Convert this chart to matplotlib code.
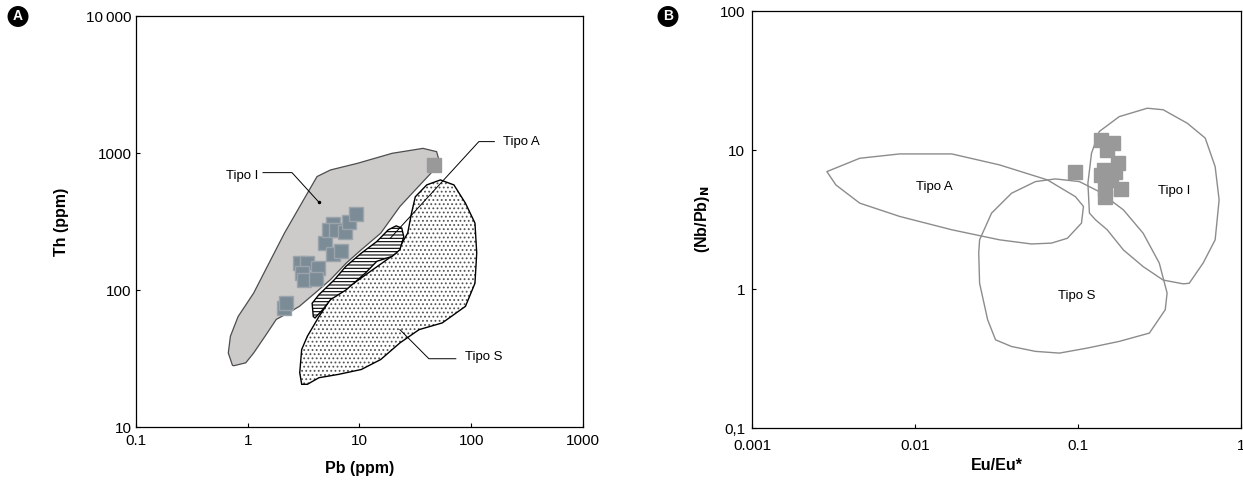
import matplotlib
matplotlib.use("Agg")
import matplotlib.pyplot as plt
from matplotlib.patches import Polygon

plt.rcParams["font.family"] = ["Liberation Sans", "DejaVu Sans"]
plt.rcParams["hatch.linewidth"] = 0.8

## Panel A data: Th vs Pb (ppm)
pbSamples = [2.1, 2.21, 2.92, 3.42, 3.04, 3.16, 4.27, 4.08, 4.9, 5.74, 6.89,
             5.83, 5.3, 6.2, 7.4, 8.07, 9.38]
thSamples = [74, 80, 157, 157, 133, 119, 145, 120, 220, 183, 193,
             302, 275, 272, 264, 316, 360]
pbExtra = [46]
thExtra = [813]

tipoIPb = [0.73, 0.67, 0.70, 0.82, 1.13, 1.55, 2.13, 3.16, 4.17, 5.5, 9.6, 19.6,
           37, 49, 51, 43.5, 31.6, 23, 15.5, 10.4, 7.6, 5.5, 4.0, 2.9, 2.3, 1.8,
           1.43, 1.13, 0.96, 0.75]
tipoITh = [28.2, 34.7, 46, 64, 95, 157, 260, 455, 673, 752, 841, 995,
           1081, 1023, 913, 711, 538, 407, 260, 197, 157, 119, 95, 76, 68, 61,
           46, 34.7, 29.4, 28]

tipoSPb = [3.04, 2.92, 3.04, 3.42, 4.34, 5.97, 8.9, 13.2, 21.3, 27, 29.2, 31.6,
           40, 53, 70, 88.8, 108, 112, 108, 88.8, 55, 34.2, 23, 15.5, 10.4,
           6.46, 4.34, 3.42]
tipoSTh = [20.5, 24.9, 36.8, 46, 64, 95, 112, 141, 186, 260, 363, 479,
           585, 636, 585, 430, 308, 186, 112, 76, 57.5, 51.4, 41.1, 31.1, 26.3,
           24.2, 22.9, 20.5]

tipoAPb = [3.86, 3.77, 4.34, 5.97, 7.57, 10.4, 14.3, 18.1, 21.3, 23.9, 24.9,
           23, 19.6, 14.3, 11.3, 7.57, 5.5, 4.7, 4.0]
tipoATh = [64, 80, 92.5, 119, 149, 186, 226, 275, 294, 283, 245,
           197, 176, 162, 133, 100, 85, 72, 62.5]

## Panel B data: (Nb/Pb)N vs Eu/Eu*
euSamples = [0.0953, 0.139, 0.165, 0.15, 0.177, 0.145, 0.139, 0.169, 0.16,
             0.147, 0.146, 0.184]
nbSamples = [7.0, 11.8, 11.3, 10.0, 8.13, 7.19, 6.62, 7.0, 6.1,
             5.22, 4.62, 5.22]

fieldAEu = [0.00288, 0.00458, 0.00805, 0.0168, 0.033, 0.0649, 0.0964, 0.108,
            0.105, 0.0861, 0.0687, 0.0518, 0.033, 0.0168, 0.00805, 0.00458,
            0.00327]
fieldANb = [7.0, 8.73, 9.38, 9.38, 7.82, 6.1, 4.62, 3.93,
            2.98, 2.32, 2.14, 2.11, 2.26, 2.67, 3.33, 4.15, 5.61]

fieldSEu = [0.0249, 0.0295, 0.0391, 0.0548, 0.0727, 0.102, 0.135, 0.19, 0.251,
            0.315, 0.352, 0.343, 0.274, 0.179, 0.114, 0.0769, 0.0548, 0.0391,
            0.0312, 0.0279, 0.0249, 0.0246]
fieldSNb = [2.26, 3.52, 4.89, 5.93, 6.2, 5.93, 5.02, 3.71, 2.52,
            1.54, 0.936, 0.71, 0.482, 0.42, 0.376, 0.346, 0.356, 0.386,
            0.431, 0.601, 1.10, 1.81]

fieldIEu = [0.1175, 0.115, 0.121, 0.135, 0.179, 0.266, 0.333, 0.468, 0.603,
            0.694, 0.734, 0.694, 0.586, 0.481, 0.442, 0.333, 0.251, 0.19,
            0.151, 0.128]
fieldINb = [3.52, 5.77, 9.48, 13.6, 17.4, 20.0, 19.5, 15.6, 12.2,
            7.6, 4.38, 2.26, 1.54, 1.10, 1.09, 1.16, 1.45, 1.91,
            2.67, 3.15]

xTicksA = [0.1, 1, 10, 100, 1000]
xLabelsA = ["0.1", "1", "10", "100", "1000"]
yTicksA = [10, 100, 1000, 10000]
yLabelsA = ["10", "100", "1000", "10\u2009000"]
xTicksB = [0.001, 0.01, 0.1, 1]
xLabelsB = ["0.001", "0.01", "0.1", "1"]
yTicksB = [0.1, 1, 10, 100]
yLabelsB = ["0,1", "1", "10", "100"]

tickSize = 11
labelSize = 11.5
noteSize = 9.5


def styleAxes(ax, xt, xl, yt, yl, xpad, ypad):
    ax.set_xscale("log")
    ax.set_yscale("log")
    ax.set_xlim(xt[0], xt[-1])
    ax.set_ylim(yt[0], yt[-1])
    ax.set_xticks(xt)
    ax.set_xticklabels(xl)
    ax.set_yticks(yt)
    ax.set_yticklabels(yl)
    ax.minorticks_off()
    ax.tick_params(direction="in", length=3, width=0.8, labelsize=tickSize)
    ax.tick_params(axis="x", pad=xpad)
    ax.tick_params(axis="y", pad=ypad)
    for s in ax.spines.values():
        s.set_linewidth(0.9)


def panelTag(fig, x, y, letter):
    fig.text(x, y, letter, ha="center", va="center", color="white",
             fontsize=10, fontweight="bold",
             bbox=dict(boxstyle="circle,pad=0.2", fc="black", ec="black"))


fig = plt.figure(figsize=(12.43, 4.82), dpi=100)

## Panel A
axA = fig.add_axes([0.1094, 0.1141, 0.3596, 0.8527])
styleAxes(axA, xTicksA, xLabelsA, yTicksA, yLabelsA, 5, 3)
# dotted field: hatch drawn in grey, outline drawn on top in black
axA.add_patch(Polygon(list(zip(tipoSPb, tipoSTh)), closed=True, fc="white",
                      ec="#555555", lw=0, hatch="....", zorder=2))
axA.add_patch(Polygon(list(zip(tipoSPb, tipoSTh)), closed=True, fill=False,
                      ec="black", lw=1.0, zorder=2))
axA.add_patch(Polygon(list(zip(tipoIPb, tipoITh)), closed=True, fc="#cdcaca",
                      ec="#4d4d4d", lw=0.9, zorder=2))
axA.add_patch(Polygon(list(zip(tipoAPb, tipoATh)), closed=True, fc="white",
                      ec="black", lw=1.0, hatch="-----", zorder=3))
axA.plot(pbSamples, thSamples, "s", ms=9.5, mfc="#7b8c97", mec="#9aa4aa",
         mew=1.0, zorder=4)
axA.plot(pbExtra, thExtra, "s", ms=9.5, mfc="#999999", mec="#999999",
         zorder=4)

# leaders
axA.plot([1.37, 2.49, 4.34], [719, 719, 437], color="black", lw=0.7, zorder=5)
axA.plot([4.34], [437], "o", color="black", ms=1.5, zorder=5)
axA.text(0.89, 680, "Tipo I", fontsize=noteSize, ha="center", va="center")
axA.plot([161, 117, 18.9], [1211, 1211, 239], color="black", lw=0.7, zorder=5)
axA.text(281, 1211, "Tipo A", fontsize=noteSize, ha="center", va="center")
axA.plot([72.8, 41.8, 23], [31.5, 31.5, 51.4], color="black", lw=0.7, zorder=5)
axA.text(130, 32.5, "Tipo S", fontsize=noteSize, ha="center", va="center")

axA.set_xlabel("Pb (ppm)", fontsize=labelSize, fontweight="bold", va="center")
axA.xaxis.set_label_coords(0.5, -0.102)
axA.set_ylabel("Th (ppm)", fontsize=labelSize, fontweight="bold", va="center")
axA.yaxis.set_label_coords(-0.167, 0.5)

## Panel B
axB = fig.add_axes([0.605, 0.112, 0.3934, 0.865])
styleAxes(axB, xTicksB, xLabelsB, yTicksB, yLabelsB, 8, 5)
for eu, nb in [(fieldAEu, fieldANb), (fieldSEu, fieldSNb), (fieldIEu, fieldINb)]:
    axB.add_patch(Polygon(list(zip(eu, nb)), closed=True, fill=False,
                          ec="#8c8c8c", lw=1.0, joinstyle="round", zorder=2))
axB.plot(euSamples, nbSamples, "s", ms=9.5, mfc="#999999", mec="#999999",
         zorder=4)
axB.text(0.0132, 5.4, "Tipo A", fontsize=noteSize, ha="center", va="center")
axB.text(0.098, 0.89, "Tipo S", fontsize=noteSize, ha="center", va="center")
axB.text(0.39, 5.1, "Tipo I", fontsize=noteSize, ha="center", va="center")

axB.set_xlabel("Eu/Eu*", fontsize=labelSize, fontweight="bold", va="center")
axB.xaxis.set_label_coords(0.5, -0.089)
axB.set_ylabel("(Nb/Pb)$_\\mathbf{N}$", fontsize=labelSize, fontweight="bold",
               va="center")
axB.yaxis.set_label_coords(-0.102, 0.5)

panelTag(fig, 0.0145, 0.9658, "A")
panelTag(fig, 0.5374, 0.9658, "B")

fig.savefig("out.png", dpi=100)
